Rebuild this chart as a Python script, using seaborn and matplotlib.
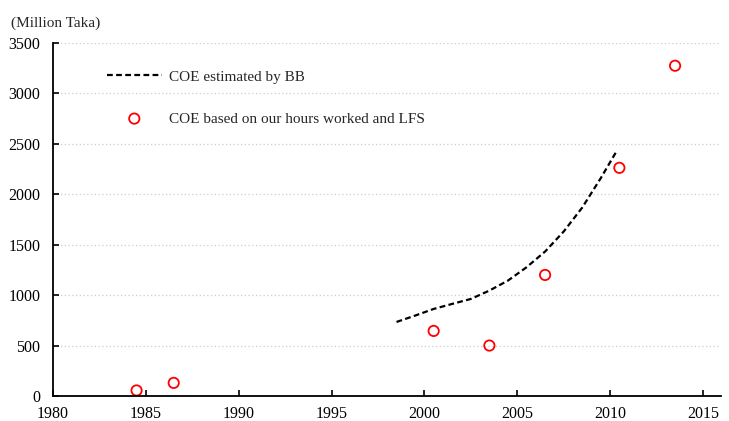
import matplotlib
matplotlib.use("Agg")
import matplotlib.pyplot as plt
import seaborn as sns
import pandas as pd

# COE estimated by BB (dashed line)
bb_years = [1998.5, 1999.5, 2000.5, 2001.5, 2002.5, 2003.5, 2004.5, 2005.5,
            2006.5, 2007.5, 2008.5, 2009.5, 2010.3]
bb_values = [734, 797, 863, 913, 962, 1045, 1144, 1276, 1432, 1630, 1868, 2160, 2411]

# COE based on our hours worked and LFS (open circles)
lfs_years = [1984.5, 1986.5, 2000.5, 2003.5, 2006.5, 2010.5, 2013.5]
lfs_values = [55, 130, 645, 500, 1200, 2262, 3274]

y_ticks = [0, 500, 1000, 1500, 2000, 2500, 3000, 3500]
x_ticks = [1980, 1985, 1990, 1995, 2000, 2005, 2010, 2015]

sns.set_style("ticks")
plt.rcParams['font.family'] = ['Liberation Serif', 'DejaVu Serif']

bb = pd.DataFrame({"year": bb_years, "coe": bb_values})
lfs = pd.DataFrame({"year": lfs_years, "coe": lfs_values})

fig = plt.figure(figsize=(7.29, 4.21), dpi=100)
ax = fig.add_axes([0.0727, 0.0594, 0.917, 0.8386])

sns.lineplot(data=bb, x="year", y="coe", ax=ax, color="black", linewidth=1.6,
             dashes=False, label="COE estimated by BB")
ax.lines[0].set_dashes([2.6, 1.5])
sns.scatterplot(data=lfs, x="year", y="coe", ax=ax, marker="o", s=55,
                facecolors="none", edgecolor="red", linewidth=1.3,
                label="COE based on our hours worked and LFS")

ax.set_xlim(1980, 2016)
ax.set_ylim(0, 3500)
ax.set_xticks(x_ticks)
ax.set_yticks(y_ticks)
ax.set_xlabel("")
ax.set_ylabel("")
ax.tick_params(direction="in", length=4, width=1.2, labelsize=11.5, colors="black")
ax.tick_params(axis="x", pad=7)
ax.tick_params(axis="y", pad=9)
ax.yaxis.grid(True, linestyle=(0, (1, 2)), color="#cccccc", linewidth=0.9)
ax.set_axisbelow(True)
for side in ["top", "right"]:
    ax.spines[side].set_visible(False)
for side in ["left", "bottom"]:
    ax.spines[side].set_linewidth(1.3)
    ax.spines[side].set_color("black")

leg = ax.legend(loc="upper left", bbox_to_anchor=(0.136, 0.852),
                bbox_transform=fig.transFigure, frameon=False,
                handlelength=3.6, handletextpad=0.45, labelspacing=1.85,
                fontsize=11, borderpad=0)

fig.text(0.015, 0.945, "(Million Taka)", fontsize=11, ha="left", va="center")

fig.savefig("out.png", dpi=100)
